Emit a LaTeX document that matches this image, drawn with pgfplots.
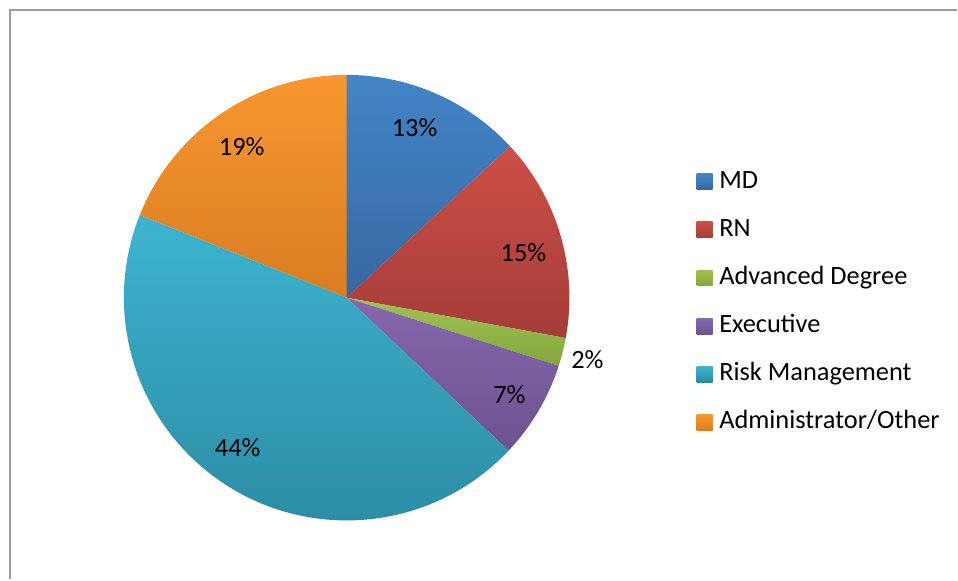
\documentclass[border=0pt]{standalone}
\usepackage{pgfplots}
\pgfplotsset{compat=1.18}
\usepackage{pgfplotstable}
\usepackage{fontspec}
\setmainfont{Carlito}

\definecolor{mdT}{HTML}{4385C6}\definecolor{mdB}{HTML}{3668A2}
\definecolor{rnT}{HTML}{CD4E47}\definecolor{rnB}{HTML}{A43D38}
\definecolor{adT}{HTML}{9FC352}\definecolor{adB}{HTML}{84A63D}
\definecolor{exT}{HTML}{8668AC}\definecolor{exB}{HTML}{6D5190}
\definecolor{rmT}{HTML}{3DB4CF}\definecolor{rmB}{HTML}{2B8AA3}
\definecolor{aoT}{HTML}{F8972F}\definecolor{aoB}{HTML}{D97D22}
\definecolor{frame}{HTML}{9C9C9C}

\pgfplotstableread{
label value
MD 13.1
RN 14.8
AD 2.05
EX 7.1
RM 44.0
AO 18.95
}\piedata

\begin{document}
\begin{tikzpicture}
\pgfmathsetmacro{\aA}{90}
\pgfplotstablegetelem{0}{value}\of\piedata \pgfmathsetmacro{\aB}{\aA-3.6*\pgfplotsretval}
\pgfplotstablegetelem{1}{value}\of\piedata \pgfmathsetmacro{\aC}{\aB-3.6*\pgfplotsretval}
\pgfplotstablegetelem{2}{value}\of\piedata \pgfmathsetmacro{\aD}{\aC-3.6*\pgfplotsretval}
\pgfplotstablegetelem{3}{value}\of\piedata \pgfmathsetmacro{\aE}{\aD-3.6*\pgfplotsretval}
\pgfplotstablegetelem{4}{value}\of\piedata \pgfmathsetmacro{\aF}{\aE-3.6*\pgfplotsretval}
\pgfplotstablegetelem{5}{value}\of\piedata \pgfmathsetmacro{\aG}{\aF-3.6*\pgfplotsretval}
\def\R{111.5pt}
\begin{axis}[
  width=479pt, height=290pt, scale only axis,
  xmin=0, xmax=958, ymin=0, ymax=580,
  hide axis, clip=false,
  legend cell align=left,
  legend image code/.code={\path[#1, draw=none] (0pt,-4pt) rectangle (8pt,4pt);},
  legend style={at={(axis cs:697,414)}, anchor=north west, draw=none, fill=none,
    font=\fontsize{13.2}{15}\selectfont, row sep=8.6pt, inner sep=0pt,
    nodes={text height=9.5pt, text depth=3pt, inner ysep=1.5pt, inner xsep=3.3pt}},
]
\path (axis cs:0,0) rectangle (axis cs:958,580);
\draw[frame, line width=1pt] (axis cs:10,0) -- (axis cs:10,570) -- (axis cs:958,570);

\path[top color=mdT, bottom color=mdB] (axis cs:347,282) -- ++(\aA:\R) arc[start angle=\aA, end angle=\aB, radius=\R] -- cycle;
\path[top color=rnT, bottom color=rnB] (axis cs:347,282) -- ++(\aB:\R) arc[start angle=\aB, end angle=\aC, radius=\R] -- cycle;
\path[top color=adT, bottom color=adB] (axis cs:347,282) -- ++(\aC:\R) arc[start angle=\aC, end angle=\aD, radius=\R] -- cycle;
\path[top color=exT, bottom color=exB] (axis cs:347,282) -- ++(\aD:\R) arc[start angle=\aD, end angle=\aE, radius=\R] -- cycle;
\path[top color=rmT, bottom color=rmB] (axis cs:347,282) -- ++(\aE:\R) arc[start angle=\aE, end angle=\aF, radius=\R] -- cycle;
\path[top color=aoT, bottom color=aoB] (axis cs:347,282) -- ++(\aF:\R) arc[start angle=\aF, end angle=\aG, radius=\R] -- cycle;

\begin{scope}[font=\fontsize{13.2}{15}\selectfont]
\node at (axis cs:415,452) {13\%};
\node at (axis cs:524,327) {15\%};
\node at (axis cs:588,220) {2\%};
\node at (axis cs:510,185) {7\%};
\node at (axis cs:238,132) {44\%};
\node at (axis cs:242,433) {19\%};
\end{scope}

\addlegendimage{top color=mdT, bottom color=mdB}\addlegendentry{MD}
\addlegendimage{top color=rnT, bottom color=rnB}\addlegendentry{RN}
\addlegendimage{top color=adT, bottom color=adB}\addlegendentry{Advanced Degree}
\addlegendimage{top color=exT, bottom color=exB}\addlegendentry{Executive}
\addlegendimage{top color=rmT, bottom color=rmB}\addlegendentry{Risk Management}
\addlegendimage{top color=aoT, bottom color=aoB}\addlegendentry{Administrator/Other}
\end{axis}
\end{tikzpicture}
\end{document}
